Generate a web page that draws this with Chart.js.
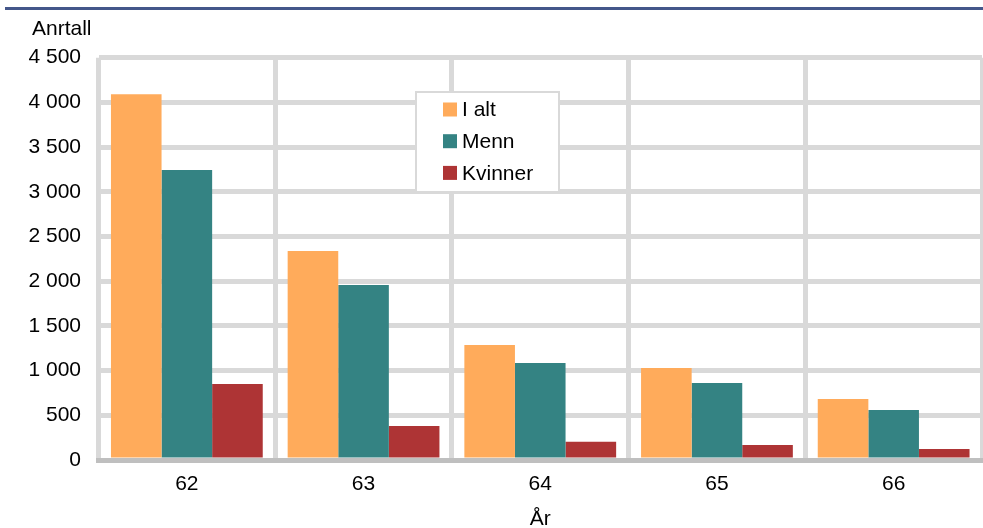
<!DOCTYPE html>
<html>
<head>
<meta charset="utf-8">
<script src="https://cdn.jsdelivr.net/npm/chart.js@4.4.1/dist/chart.umd.min.js"></script>
<style>
  html, body { margin: 0; padding: 0; background: #fff; overflow: hidden; }
  #wrap { width: 983px; height: 528px; overflow: hidden; }
  canvas { display: block; }
</style>
</head>
<body>
<div id="wrap"><canvas id="c" width="983" height="528"></canvas></div>
<script>
const categories = ['62', '63', '64', '65', '66'];
const seriesNames = ['I alt', 'Menn', 'Kvinner'];
const iAlt = [4090, 2338, 1286, 1029, 682];
const menn = [3244, 1957, 1085, 861, 559];
const kvinner = [850, 380, 205, 168, 123];
const yTicks = [0, 500, 1000, 1500, 2000, 2500, 3000, 3500, 4000, 4500];
const yAxisLabel = 'Anrtall';
const xAxisLabel = 'År';

const colors = ['#ffab5b', '#348383', '#ae3435'];
const FONT = '"Liberation Sans", Arial, sans-serif';
const FS = 21;

function fmt(v) {
  return String(v).replace(/\B(?=(\d{3})+(?!\d))/g, ' ');
}

const decor = {
  id: 'decor',
  afterDraw(chart) {
    const ctx = chart.ctx;
    ctx.save();
    // top rule
    ctx.fillStyle = '#44578a';
    ctx.fillRect(5, 7, 978, 3);
    // y-axis label
    ctx.fillStyle = '#000';
    ctx.font = FS + 'px ' + FONT;
    ctx.textAlign = 'left';
    ctx.textBaseline = 'alphabetic';
    ctx.fillText(yAxisLabel, 32, 35);
    // legend box
    const bx = 416, by = 92, bw = 143, bh = 100;
    ctx.fillStyle = '#fff';
    ctx.fillRect(bx, by, bw, bh);
    ctx.strokeStyle = '#d9d9d9';
    ctx.lineWidth = 2;
    ctx.strokeRect(bx, by, bw, bh);
    chart.data.datasets.forEach((ds, i) => {
      const cy = 109.5 + i * 31.7;
      ctx.fillStyle = ds.backgroundColor;
      ctx.fillRect(443, cy - 7, 14, 14);
      ctx.fillStyle = '#000';
      ctx.textBaseline = 'middle';
      ctx.fillText(ds.label, 462, cy + 1);
    });
    ctx.restore();
  }
};

new Chart(document.getElementById('c'), {
  type: 'bar',
  data: {
    labels: categories,
    datasets: [
      { label: seriesNames[0], data: iAlt, backgroundColor: colors[0] },
      { label: seriesNames[1], data: menn, backgroundColor: colors[1] },
      { label: seriesNames[2], data: kvinner, backgroundColor: colors[2] }
    ]
  },
  options: {
    responsive: false,
    animation: false,
    devicePixelRatio: 1,
    layout: { padding: { top: 57.7, left: 0, right: 1, bottom: 0 } },
    datasets: {
      bar: { categoryPercentage: 0.859, barPercentage: 1.0, borderWidth: 0 }
    },
    plugins: {
      legend: { display: false },
      tooltip: { enabled: false },
      title: { display: false }
    },
    scales: {
      x: {
        z: 1,
        offset: true,
        grid: { display: true, offset: true, color: '#d9d9d9', lineWidth: 5, drawTicks: false },
        border: { display: true, color: '#bfbfbf', width: 5 },
        ticks: { color: '#000', font: { family: FONT, size: FS }, padding: 12 },
        title: { display: true, text: xAxisLabel, color: '#000', font: { family: FONT, size: FS }, padding: { top: 6, bottom: -4 } },
        afterFit(scale) { scale.height = 68; }
      },
      y: {
        min: 0,
        max: 4500,
        afterBuildTicks(scale) { scale.ticks = yTicks.map(v => ({ value: v })); },
        grid: { color: '#d9d9d9', lineWidth: 5, drawTicks: false },
        border: { display: false },
        ticks: { color: '#000', font: { family: FONT, size: FS }, padding: 17.5, callback: (v) => fmt(v) },
        afterFit(scale) { scale.width = 98.5; }
      }
    }
  },
  plugins: [decor]
});
</script>
</body>
</html>
